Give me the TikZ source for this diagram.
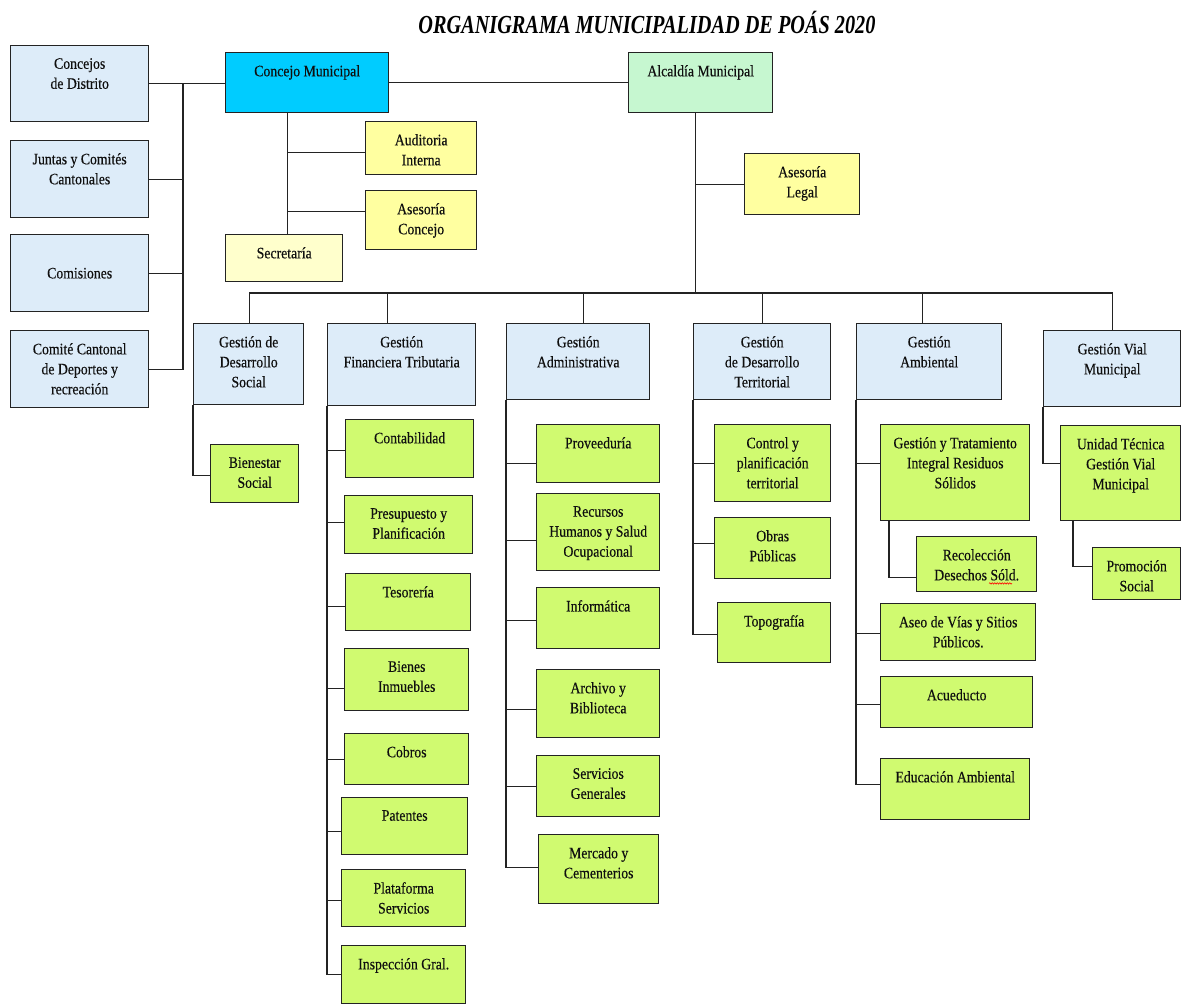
\documentclass[tikz,border=0pt]{standalone}
\usepackage{fontspec}
\setmainfont{Liberation Serif}[FakeStretch=0.86, FakeBold=0.3]
\newfontfamily\titlefont{Liberation Serif}[FakeStretch=0.78]
\usetikzlibrary{decorations.pathmorphing}

\definecolor{boxline}{RGB}{35,35,35}
\definecolor{textdark}{RGB}{15,15,15}
\definecolor{deptblue}{RGB}{221,236,249}
\definecolor{councilcyan}{RGB}{0,204,255}
\definecolor{mayormint}{RGB}{198,247,208}
\definecolor{advyellow}{RGB}{255,255,160}
\definecolor{secyellow}{RGB}{255,255,204}
\definecolor{unitgreen}{RGB}{208,250,112}

\newcommand{\boxfont}{\fontsize{16}{20}\selectfont}

\begin{document}
\begin{tikzpicture}[
    x=1pt, y=-1pt,
    % Define styles
    base_box/.style={
        draw=boxline,
        line width=1.4pt,
        anchor=north west,
        inner sep=0pt,
        align=center,
        font=\boxfont,
        text=textdark
    },
    blue_box/.style={base_box, fill=deptblue},
    cyan_box/.style={base_box, fill=councilcyan},
    mint_box/.style={base_box, fill=mayormint},
    yellow_box/.style={base_box, fill=advyellow},
    pale_box/.style={base_box, fill=secyellow},
    green_box/.style={base_box, fill=unitgreen},
    box_text/.style={
        anchor=north,
        align=center,
        inner sep=0pt,
        yshift=-13pt,
        font=\boxfont,
        text=textdark
    },
    title_text/.style={
        font=\titlefont\bfseries\itshape\fontsize{26}{30}\selectfont,
        text=black
    },
    org_line/.style={
        draw=boxline,
        line width=1.3pt
    }
]

    \fill[white] (0,0) rectangle (1182,1005);
    \useasboundingbox (0,0) rectangle (1182,1005);

    % Title
    \node[title_text] (title) at (647,22) {ORGANIGRAMA MUNICIPALIDAD DE POÁS 2020};

    % --- Left Column ---
    \node[blue_box, minimum width=138, minimum height=76,
        label={[box_text]north:{Concejos\\de Distrito}}] (cdist) at (10,45) {};
    \node[blue_box, minimum width=138, minimum height=77,
        label={[box_text]north:{Juntas y Comités\\Cantonales}}] (cjunt) at (10,140) {};
    \node[blue_box, minimum width=138, minimum height=77] (ccomi) at (10,234) {Comisiones};
    \node[blue_box, minimum width=138, minimum height=77,
        label={[box_text]north:{Comité Cantonal\\de Deportes y\\recreación}}] (cdep) at (10,330) {};

    % --- Council and Mayor ---
    \node[cyan_box, minimum width=163, minimum height=60,
        label={[box_text]north:{Concejo Municipal}}] (cmun) at (225,52) {};
    \node[mint_box, minimum width=144, minimum height=60,
        label={[box_text]north:{Alcaldía Municipal}}] (alc) at (628,52) {};
    \node[yellow_box, minimum width=111, minimum height=53,
        label={[box_text]north:{Auditoria\\Interna}}] (aud) at (365,121) {};
    \node[yellow_box, minimum width=111, minimum height=59,
        label={[box_text]north:{Asesoría\\Concejo}}] (ascon) at (365,190) {};
    \node[pale_box, minimum width=117, minimum height=47,
        label={[box_text]north:{Secretaría}}] (sec) at (225,234) {};
    \node[yellow_box, minimum width=115, minimum height=61,
        label={[box_text]north:{Asesoría\\Legal}}] (leg) at (744,153) {};

    % --- Departments ---
    \node[blue_box, minimum width=110, minimum height=81,
        label={[box_text]north:{Gestión de\\Desarrollo\\Social}}] (gsoc) at (193,323) {};
    \node[blue_box, minimum width=148, minimum height=82,
        label={[box_text]north:{Gestión\\Financiera Tributaria}}] (gfin) at (327,323) {};
    \node[blue_box, minimum width=143, minimum height=76,
        label={[box_text]north:{Gestión\\Administrativa}}] (gadm) at (506,323) {};
    \node[blue_box, minimum width=137, minimum height=76,
        label={[box_text]north:{Gestión\\de Desarrollo\\Territorial}}] (gter) at (693,323) {};
    \node[blue_box, minimum width=145, minimum height=76,
        label={[box_text]north:{Gestión\\Ambiental}}] (gamb) at (856,323) {};
    \node[blue_box, minimum width=137, minimum height=76,
        label={[box_text]north:{Gestión Vial\\Municipal}}] (gvia) at (1043,330) {};

    % --- Units: Desarrollo Social ---
    \node[green_box, minimum width=88, minimum height=58,
        label={[box_text]north:{Bienestar\\Social}}] (bien) at (210,444) {};

    % --- Units: Financiera Tributaria ---
    \node[green_box, minimum width=128, minimum height=58,
        label={[box_text]north:{Contabilidad}}] (cont) at (345,419) {};
    \node[green_box, minimum width=128, minimum height=58,
        label={[box_text]north:{Presupuesto y\\Planificación}}] (pres) at (344,495) {};
    \node[green_box, minimum width=125, minimum height=57,
        label={[box_text]north:{Tesorería}}] (teso) at (345,573) {};
    \node[green_box, minimum width=124, minimum height=62,
        label={[box_text]north:{Bienes\\Inmuebles}}] (binm) at (344,648) {};
    \node[green_box, minimum width=124, minimum height=51,
        label={[box_text]north:{Cobros}}] (cobr) at (344,733) {};
    \node[green_box, minimum width=126, minimum height=57,
        label={[box_text]north:{Patentes}}] (pate) at (341,797) {};
    \node[green_box, minimum width=124, minimum height=57,
        label={[box_text]north:{Plataforma\\Servicios}}] (plat) at (341,869) {};
    \node[green_box, minimum width=124, minimum height=58,
        label={[box_text]north:{Inspección Gral.}}] (insp) at (341,945) {};

    % --- Units: Administrativa ---
    \node[green_box, minimum width=123, minimum height=58,
        label={[box_text]north:{Proveeduría}}] (prov) at (536,424) {};
    \node[green_box, minimum width=123, minimum height=77,
        label={[box_text]north:{Recursos\\Humanos y Salud\\Ocupacional}}] (rrhh) at (536,493) {};
    \node[green_box, minimum width=123, minimum height=61,
        label={[box_text]north:{Informática}}] (info) at (536,587) {};
    \node[green_box, minimum width=123, minimum height=68,
        label={[box_text]north:{Archivo y\\Biblioteca}}] (arch) at (536,669) {};
    \node[green_box, minimum width=123, minimum height=61,
        label={[box_text]north:{Servicios\\Generales}}] (serv) at (536,755) {};
    \node[green_box, minimum width=120, minimum height=69,
        label={[box_text]north:{Mercado y\\Cementerios}}] (merc) at (538,834) {};

    % --- Units: Desarrollo Territorial ---
    \node[green_box, minimum width=116, minimum height=77,
        label={[box_text]north:{Control y\\planificación\\territorial}}] (ctrl) at (714,424) {};
    \node[green_box, minimum width=116, minimum height=61,
        label={[box_text]north:{Obras\\Públicas}}] (obra) at (714,517) {};
    \node[green_box, minimum width=113, minimum height=60,
        label={[box_text]north:{Topografía}}] (topo) at (717,602) {};

    % --- Units: Ambiental ---
    \node[green_box, minimum width=149, minimum height=96,
        label={[box_text]north:{Gestión y Tratamiento\\Integral Residuos\\Sólidos}}] (gtrs) at (880,424) {};
    \node[green_box, minimum width=120, minimum height=55,
        label={[box_text]north:{Recolección\\Desechos Sóld.}}] (reco) at (916,536) {};
    \node[green_box, minimum width=155, minimum height=57,
        label={[box_text]north:{Aseo de Vías y Sitios\\Públicos.}}] (aseo) at (880,603) {};
    \node[green_box, minimum width=152, minimum height=51,
        label={[box_text]north:{Acueducto}}] (acue) at (880,676) {};
    \node[green_box, minimum width=149, minimum height=61,
        label={[box_text]north:{Educación Ambiental}}] (educ) at (880,758) {};

    % --- Units: Vial ---
    \node[green_box, minimum width=120, minimum height=95,
        label={[box_text]north:{Unidad Técnica\\Gestión Vial\\Municipal}}] (utec) at (1060,425) {};
    \node[green_box, minimum width=88, minimum height=52,
        label={[box_text]north:{Promoción\\Social}}] (prom) at (1092,547) {};

    % Spell-check mark under "Sóld"
    \draw[red, line width=0.6pt, decorate,
        decoration={snake, amplitude=0.7pt, segment length=2.5pt}]
        ([shift={(73,-9)}]reco.south west) -- ([shift={(96,-9)}]reco.south west);

    % --- Connectors: top level ---
    \coordinate (ltrunk) at (183,83);
    \draw[org_line] (cdist.east) -- (cdist.east -| cmun.west);
    \foreach \n in {cjunt, ccomi, cdep} {
        \draw[org_line] (\n.east) -| (ltrunk);
    }
    \draw[org_line] (cmun.east) -- (alc.west);

    % Council branch
    \coordinate (cmtrunk) at ([xshift=-19.5pt]cmun.south);
    \draw[org_line] (cmtrunk) -- (cmtrunk |- sec.north);
    \draw[org_line] (cmtrunk) |- ([yshift=-4.5pt]aud.west);
    \draw[org_line] (cmtrunk) |- ([yshift=8.5pt]ascon.west);

    % Mayor branch and bus
    \coordinate (atrunk) at ([xshift=-5pt]alc.south);
    \coordinate (busL) at (249,293);
    \draw[org_line] (atrunk) -- (atrunk |- busL);
    \draw[org_line] (atrunk) |- (leg.west);
    \foreach \n/\dx in {gsoc/1, gfin/-14, gadm/5.5, gter/0, gamb/-6.5, gvia/0} {
        \draw[org_line] ([xshift=\dx pt]\n.north) |- (busL);
    }

    % --- Connectors: units ---
    \draw[org_line] (gsoc.south west) |- ([yshift=-2pt]bien.west);
    \foreach \n/\dy in {cont/-2, pres/2, teso/-4.5, binm/-9, cobr/0, pate/-5.5, plat/-2.5, insp/0} {
        \draw[org_line] (gfin.south west) |- ([yshift=\dy pt]\n.west);
    }
    \foreach \n/\dy in {prov/-10, rrhh/-8.5, info/-2.5, arch/-6, serv/0, merc/1.5} {
        \draw[org_line] (gadm.south west) |- ([yshift=\dy pt]\n.west);
    }
    \foreach \n/\dy in {ctrl/0, obra/4.5, topo/-2} {
        \draw[org_line] (gter.south west) |- ([yshift=\dy pt]\n.west);
    }
    \foreach \n/\dy in {gtrs/9, aseo/-1.5, acue/-2.5, educ/4.5} {
        \draw[org_line] (gamb.south west) |- ([yshift=\dy pt]\n.west);
    }
    \draw[org_line] ([xshift=9pt]gtrs.south west) |- ([yshift=-13.5pt]reco.west);
    \draw[org_line] (gvia.south west) |- ([yshift=9.5pt]utec.west);
    \draw[org_line] ([xshift=13pt]utec.south west) |- ([yshift=7pt]prom.west);

\end{tikzpicture}
\end{document}
